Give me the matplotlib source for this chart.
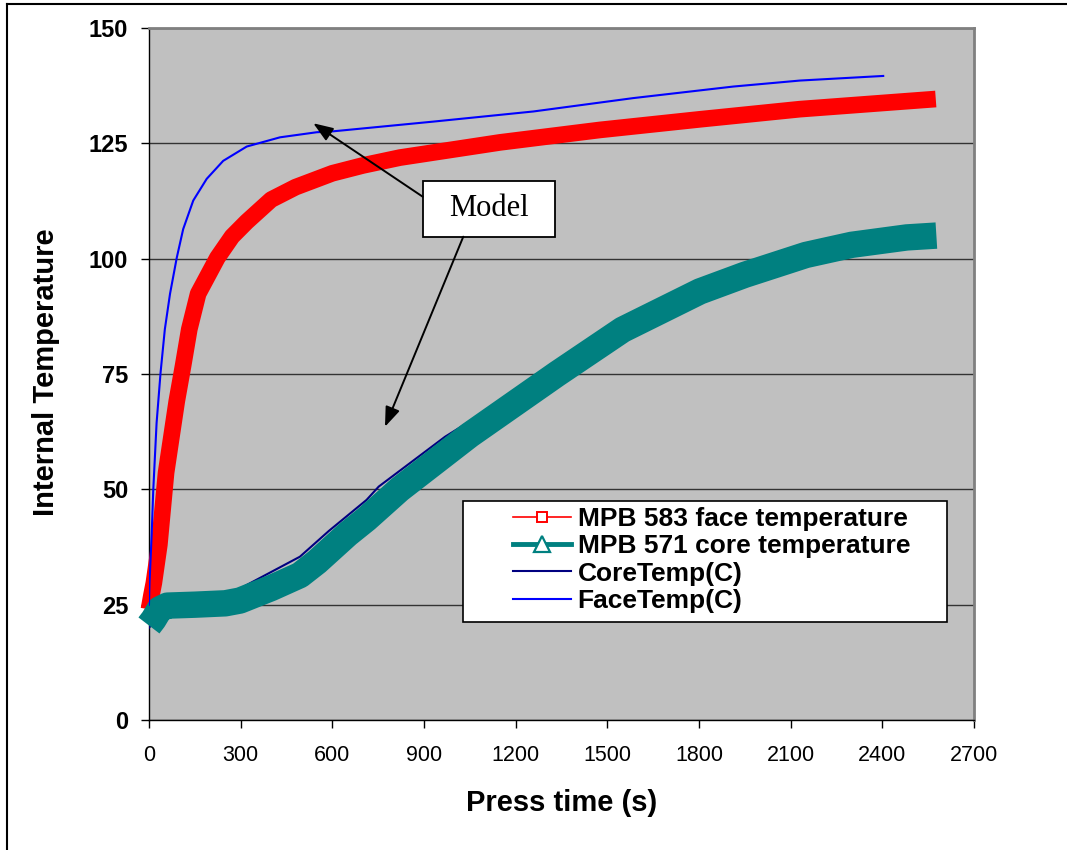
import matplotlib
matplotlib.use('Agg')
import matplotlib.pyplot as plt
from matplotlib.lines import Line2D
from matplotlib.patches import Rectangle

plt.rcParams['font.family'] = ['Liberation Sans', 'DejaVu Sans']

# ---------------- data ----------------
# MPB 583 face temperature (measured)
face_meas_t = [0, 8, 16, 34, 56, 91, 112, 132, 161, 224, 272, 320, 400, 480, 600, 700, 821, 1149, 1476, 1803, 2130, 2575]
face_meas_T = [24.0, 27.0, 29.7, 38.0, 53.6, 69.1, 76.9, 84.7, 92.4, 100.2, 104.8, 108.0, 112.8, 115.5, 118.5, 120.2, 121.9, 125.2, 127.9, 130.2, 132.4, 134.6]

# MPB 571 core temperature (measured)
core_meas_t = [0, 15, 35, 60, 150, 250, 298, 400, 494, 550, 600, 650, 712, 820, 1050, 1335, 1550, 1803, 1950, 2150, 2300, 2480, 2577]
core_meas_T = [20.5, 21.8, 24.0, 24.8, 25.0, 25.3, 25.9, 28.6, 31.4, 34.3, 37.3, 40.3, 43.6, 50.0, 61.8, 75.0, 84.6, 92.9, 96.5, 100.8, 103.0, 104.6, 105.0]

# CoreTemp(C) (model)
core_model_t = [0, 60, 250, 298, 494, 589, 712, 752, 969, 1335, 1803, 2150, 2403]
core_model_T = [20.0, 24.5, 26.5, 28.5, 35.4, 41.0, 47.7, 50.6, 61.4, 76.5, 94.5, 101.5, 104.0]

# FaceTemp(C) (model)
face_model_t = [0, 2, 9, 14, 25, 38, 52, 69, 91, 112, 145, 189, 243, 320, 429, 549, 603, 930, 1258, 1585, 1912, 2130, 2403]
face_model_T = [25.0, 30.0, 40.4, 49.7, 64.4, 75.3, 84.7, 92.4, 100.2, 106.4, 112.6, 117.3, 121.2, 124.3, 126.3, 127.4, 127.6, 129.7, 131.9, 134.8, 137.3, 138.6, 139.6]

series_labels = ['MPB 583 face temperature', 'MPB 571 core temperature',
                 'CoreTemp(C)', 'FaceTemp(C)']
xticks = [0, 300, 600, 900, 1200, 1500, 1800, 2100, 2400, 2700]
yticks = [0, 25, 50, 75, 100, 125, 150]
x_label = 'Press time (s)'
y_label = 'Internal Temperature'
annotation_text = 'Model'

# ---------------- figure ----------------
fig = plt.figure(figsize=(10.67, 8.5), dpi=100)
ax = fig.add_axes([0.1396, 0.1529, 0.7732, 0.8142])
ax.set_facecolor('#C0C0C0')

RED, TEAL, NAVY, BLUE = '#FF0000', '#008080', '#000080', '#0000FF'

ax.plot(face_meas_t, face_meas_T, color=RED, lw=12, solid_capstyle='butt',
        solid_joinstyle='round', zorder=3, clip_on=False)
ax.plot(core_model_t, core_model_T, color=NAVY, lw=1.5, zorder=3.2)
ax.plot(core_meas_t, core_meas_T, color=TEAL, lw=19, solid_capstyle='butt',
        solid_joinstyle='round', zorder=3.5, clip_on=False)
ax.plot(face_model_t, face_model_T, color=BLUE, lw=1.5, zorder=4)

ax.set_xlim(xticks[0], xticks[-1])
ax.set_ylim(yticks[0], yticks[-1])
ax.set_xticks(xticks)
ax.set_xticklabels([str(v) for v in xticks], fontsize=15.5)
ax.set_yticks(yticks)
ax.set_yticklabels([str(v) for v in yticks], fontsize=17, fontweight='bold')
ax.tick_params(axis='y', direction='out', length=6, width=1, pad=9, color='black')
ax.tick_params(axis='x', direction='out', length=6, width=1, pad=12, color='black')

ax.yaxis.grid(True, color='#333333', lw=1.0)
ax.set_axisbelow(True)

for s in ['left', 'bottom']:
    ax.spines[s].set_color('black')
    ax.spines[s].set_linewidth(1.0)
for s in ['top', 'right']:
    ax.spines[s].set_color('#808080')
    ax.spines[s].set_linewidth(2.0)

ax.set_xlabel(x_label, fontsize=21, fontweight='bold')
ax.xaxis.set_label_coords(0.5, -0.099)
ax.set_ylabel(y_label, fontsize=21, fontweight='bold')
ax.yaxis.set_label_coords(-0.108, 0.503)

# "Model" annotation box and arrows
ax.add_patch(Rectangle((0.3318, 0.6984), 0.1607, 0.0809, transform=ax.transAxes,
                       facecolor='white', edgecolor='black', lw=1.3, zorder=6))
ax.text(0.4122, 0.7389, annotation_text, transform=ax.transAxes, ha='center',
        va='center', fontsize=22, family=['Liberation Serif', 'DejaVu Serif'], zorder=7)
arrow_style = dict(arrowstyle='-|>,head_length=0.8,head_width=0.3', color='black',
                   lw=1.4, mutation_scale=15, shrinkA=0, shrinkB=0)
ax.annotate('', xy=(0.1992, 0.8623), xytext=(0.3318, 0.7562), xycoords='axes fraction',
            textcoords='axes fraction', arrowprops=arrow_style, zorder=6)
ax.annotate('', xy=(0.2861, 0.4238), xytext=(0.381, 0.6984), xycoords='axes fraction',
            textcoords='axes fraction', arrowprops=arrow_style, zorder=6)

# Legend (white box + frameless legend centred in it)
ax.add_patch(Rectangle((0.3806, 0.1416), 0.5867, 0.1749, transform=ax.transAxes,
                       facecolor='white', edgecolor='black', lw=1.2, zorder=5.5))
handles = [
    Line2D([], [], color=RED, lw=1.2, marker='s', markersize=7, markerfacecolor='white',
           markeredgecolor=RED, markeredgewidth=1.4),
    Line2D([], [], color=TEAL, lw=3.5, marker='^', markersize=11, markerfacecolor='white',
           markeredgecolor=TEAL, markeredgewidth=1.6),
    Line2D([], [], color=NAVY, lw=1.5),
    Line2D([], [], color=BLUE, lw=1.5),
]
leg = ax.legend(handles, series_labels, loc='center', bbox_to_anchor=(0.682, 0.2312),
                frameon=False, prop=dict(weight='bold', size=19), handlelength=2.2,
                handletextpad=0.25, labelspacing=0.12, borderpad=0)
leg.set_zorder(7)

# Figure border (top and left visible in the reference)
fig.add_artist(Line2D([7 / 1067, 1], [1 - 4 / 850, 1 - 4 / 850], color='black', lw=1.5,
                      transform=fig.transFigure))
fig.add_artist(Line2D([7 / 1067, 7 / 1067], [0, 1 - 4 / 850], color='black', lw=1.5,
                      transform=fig.transFigure))

fig.savefig('out.png', dpi=100, facecolor='white')
